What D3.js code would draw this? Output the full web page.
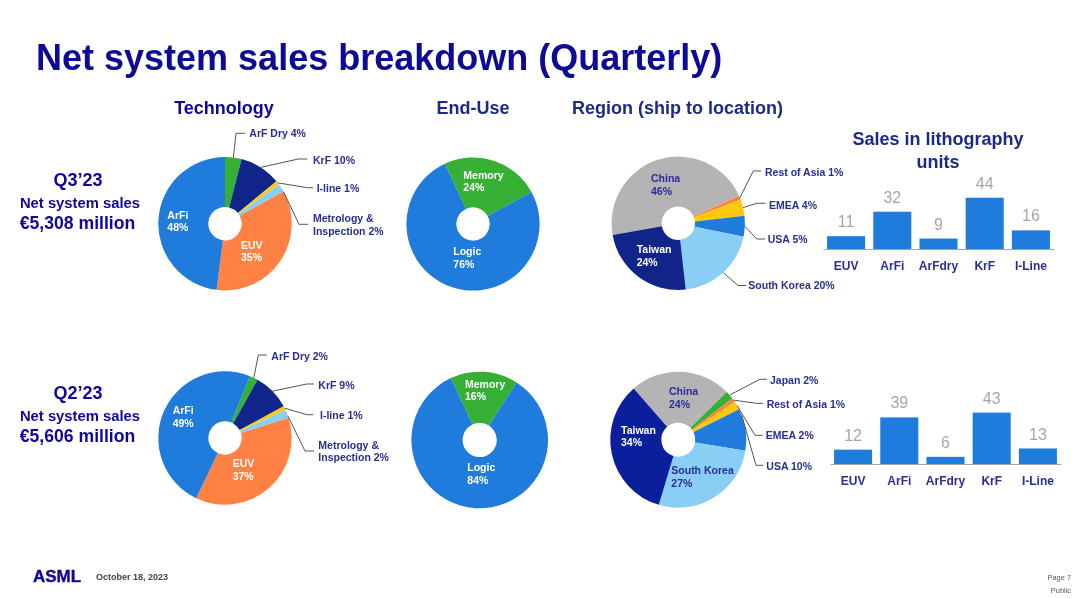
<!DOCTYPE html>
<html>
<head>
<meta charset="utf-8">
<script src="https://cdn.jsdelivr.net/npm/d3@7/dist/d3.min.js"></script>
<style>
html,body{margin:0;padding:0;background:#fff;overflow:hidden}
svg{display:block;filter:blur(0.35px)}
text{font-family:"Liberation Sans",Arial,sans-serif;font-weight:bold}
</style>
</head>
<body>
<svg id="chart" width="1080" height="599"></svg>
<script>
// ---------- data ----------
const techNamesQ3 = ["ArF Dry","KrF","I-line","Metrology & Inspection","EUV","ArFi"];
const techValuesQ3 = [4,10,1,2,35,48];
const techNamesQ2 = ["ArF Dry","KrF","I-line","Metrology & Inspection","EUV","ArFi"];
const techValuesQ2 = [2,9,1,2,37,49];
const endUseNamesQ3 = ["Memory","Logic"];
const endUseValuesQ3 = [24,76];
const endUseNamesQ2 = ["Memory","Logic"];
const endUseValuesQ2 = [16,84];
const regionNamesQ3 = ["China","Rest of Asia","EMEA","USA","South Korea","Taiwan"];
const regionValuesQ3 = [46,1,4,5,20,24];
const regionNamesQ2 = ["China","Japan","Rest of Asia","EMEA","USA","South Korea","Taiwan"];
const regionValuesQ2 = [24,2,1,2,10,27,34];
const unitCategories = ["EUV","ArFi","ArFdry","KrF","I-Line"];
const unitsQ3 = [11,32,9,44,16];
const unitsQ2 = [12,39,6,43,13];

// ---------- styles ----------
const NAVY_TEXT="#10069f", LABEL="#2a2d96";
const C={blue:"#1f7bdc",green:"#35b035",navy:"#10248a",orange:"#ff8244",yellow:"#ffc90a",light:"#88cef5",gray:"#b4b4b4",deep:"#0a1f9c"};
const techColors={"ArF Dry":C.green,"KrF":C.navy,"I-line":C.yellow,"Metrology & Inspection":C.light,"EUV":C.orange,"ArFi":C.blue};
const endColors={"Memory":C.green,"Logic":C.blue};
const regionColors={"China":C.gray,"Japan":C.green,"Rest of Asia":C.orange,"EMEA":C.yellow,"USA":C.blue,"South Korea":C.light,"Taiwan":C.navy};

const svg=d3.select("#chart");
function txt(x,y,s,size,fill,anchor,extra){
  const t=svg.append("text").attr("x",x).attr("y",y).attr("dy",".35em")
    .attr("font-size",size).attr("fill",fill).attr("text-anchor",anchor||"start").text(s);
  if(extra)extra(t);
  return t;
}

// ---------- page text ----------
txt(36,57,"Net system sales breakdown (Quarterly)",36,"#0d0a96");
txt(224,108,"Technology",18,NAVY_TEXT,"middle");
txt(473,108,"End-Use",18,"#1b2a8a","middle");
txt(572,108,"Region (ship to location)",18,"#1b2a8a");
txt(938,139,"Sales in lithography",18,"#1b2a8a","middle");
txt(938,161.5,"units",18,"#1b2a8a","middle");
[[180,203,223,"Q3’23","€5,308 million"],[393,416,436,"Q2’23","€5,606 million"]].forEach(r=>{
  txt(78,r[0],r[3],18,NAVY_TEXT,"middle");
  txt(80,r[1],"Net system sales",14.8,NAVY_TEXT,"middle");
  txt(77.5,r[2],r[4],17.6,NAVY_TEXT,"middle");
});
txt(33,576,"ASML",17,NAVY_TEXT,"start",t=>t.attr("stroke",NAVY_TEXT).attr("stroke-width",0.4));
txt(96,577,"October 18, 2023",9,"#444");
const plain=t=>t.style("font-weight","normal");
txt(1071,577,"Page 7",7.4,"#555","end",plain);
txt(1071,590.5,"Public",7.4,"#555","end",plain);

// ---------- pies ----------
function drawPie(o){
  const pie=d3.pie().sort(null).value((d,i)=>o.values[i])
    .startAngle(o.start*Math.PI/180).endAngle(o.start*Math.PI/180+2*Math.PI);
  const arc=d3.arc().innerRadius(o.r*0.25).outerRadius(o.r);
  const g=svg.append("g").attr("transform",`translate(${o.cx},${o.cy})`);
  const arcs=pie(o.names);
  g.selectAll("path").data(arcs).join("path").attr("d",arc)
    .attr("fill",(d,i)=>(o.fillOverride&&o.fillOverride[d.data])||o.colors[d.data]);
  arcs.forEach((a,i)=>{
    const name=o.names[i], val=o.values[i]+"%";
    const inside=o.inside&&o.inside[name];
    if(inside){
      const fill=inside.fill||"#fff";
      txt(inside.x,inside.y,name,10.5,fill);
      txt(inside.x,inside.y+12.6,val,10.5,fill);
    }
    const lead=o.leaders&&o.leaders[name];
    if(lead){
      const f=lead.at===undefined?0.5:lead.at;
      const ang=a.startAngle+(a.endAngle-a.startAngle)*f;
      const ax=o.cx+o.r*Math.sin(ang), ay=o.cy-o.r*Math.cos(ang);
      const p=d3.line()([[ax,ay],lead.elbow,lead.end]);
      svg.append("path").attr("d",p).attr("fill","none").attr("stroke","#555").attr("stroke-width",1);
      const parts=name.split(" & ");
      if(parts.length>1){
        txt(lead.tx,lead.ty-6.2,parts[0]+" &",10.5,LABEL);
        txt(lead.tx,lead.ty+6.2,parts[1]+" "+val,10.5,LABEL);
      } else txt(lead.tx,lead.ty,name+" "+val,10.5,LABEL);
    }
  });
}
drawPie({names:techNamesQ3,values:techValuesQ3,colors:techColors,cx:225,cy:223.7,r:66.7,start:0,
  inside:{ArFi:{x:167.3,y:215},EUV:{x:241,y:245}},
  leaders:{
    "ArF Dry":{elbow:[236,133.3],end:[245,133.3],tx:249.3,ty:133.5},
    "KrF":{elbow:[298.3,159],end:[307.3,159],tx:313,ty:160},
    "I-line":{elbow:[307.3,187.7],end:[313,187.7],tx:316.7,ty:188},
    "Metrology & Inspection":{at:1,elbow:[299,224.3],end:[308.3,224.3],tx:313,ty:225}}});
drawPie({names:techNamesQ2,values:techValuesQ2,colors:techColors,cx:225,cy:438,r:66.7,start:22,
  inside:{ArFi:{x:172.7,y:410.7},EUV:{x:232.7,y:463.3}},
  leaders:{
    "ArF Dry":{elbow:[258.3,355],end:[266.7,355],tx:271.3,ty:356},
    "KrF":{elbow:[306.7,384],end:[314,384],tx:318.3,ty:385},
    "I-line":{elbow:[306.7,414.7],end:[313.3,414.7],tx:320,ty:415},
    "Metrology & Inspection":{at:0.8,elbow:[305,451],end:[314,451],tx:318.3,ty:451.5}}});
drawPie({names:endUseNamesQ3,values:endUseValuesQ3,colors:endColors,cx:473,cy:224,r:66.6,start:-25,
  inside:{Memory:{x:463.3,y:175},Logic:{x:453.3,y:251.7}}});
drawPie({names:endUseNamesQ2,values:endUseValuesQ2,colors:endColors,cx:479.7,cy:440,r:68.3,start:-25,
  inside:{Memory:{x:465,y:384},Logic:{x:467.3,y:467.7}}});
drawPie({names:regionNamesQ3,values:regionValuesQ3,colors:regionColors,cx:678.3,cy:223.3,r:66.7,start:260,
  inside:{China:{x:651,y:178.3,fill:"#2a2d96"},Taiwan:{x:636.7,y:249.3}},
  leaders:{
    "Rest of Asia":{elbow:[753.3,171],end:[761,171],tx:765,ty:172},
    "EMEA":{elbow:[756.7,203.3],end:[765.7,203.3],tx:769,ty:205},
    "USA":{elbow:[756.7,239],end:[765,239],tx:767.7,ty:239},
    "South Korea":{elbow:[738,285.5],end:[746,285.5],tx:748.3,ty:285.5}}});
drawPie({names:regionNamesQ2,values:regionValuesQ2,colors:regionColors,cx:678.3,cy:439.7,r:68,start:319,
  fillOverride:{Taiwan:C.deep},
  inside:{China:{x:669,y:391.3,fill:"#2a2d96"},Taiwan:{x:621,y:430},"South Korea":{x:671.3,y:470.7,fill:"#2a2d96"}},
  leaders:{
    "Japan":{elbow:[760,379.3],end:[766.7,379.3],tx:770,ty:380},
    "Rest of Asia":{elbow:[756.7,403.3],end:[763.3,403.3],tx:766.7,ty:404},
    "EMEA":{elbow:[755,435.3],end:[762.7,435.3],tx:765.7,ty:435},
    "USA":{at:0.15,elbow:[756,465.3],end:[763.3,465.3],tx:766.3,ty:466}}});

// ---------- bars ----------
function drawBars(values,x0,x1,base,pxPerUnit){
  const x=d3.scaleBand().domain(unitCategories).range([x0,x1]).paddingInner(0.177).paddingOuter(0.088);
  const top=d3.max(values);
  const y=d3.scaleLinear().domain([0,top]).range([base,base-top*pxPerUnit]);
  const g=svg.append("g");
  g.selectAll("rect").data(unitCategories).join("rect")
    .attr("x",d=>x(d)).attr("width",x.bandwidth())
    .attr("y",(d,i)=>y(values[i])).attr("height",(d,i)=>base-y(values[i]))
    .attr("fill",C.blue);
  g.selectAll("text.v").data(unitCategories).join("text").attr("class","v")
    .attr("x",d=>x(d)+x.bandwidth()/2).attr("y",(d,i)=>y(values[i])-14.5).attr("dy",".35em")
    .attr("text-anchor","middle").attr("font-size",16).attr("fill","#a6a6a6")
    .style("font-weight","normal").text((d,i)=>values[i]);
  const ax=svg.append("g").attr("transform",`translate(0,${base})`)
    .call(d3.axisBottom(x).tickSize(0).tickPadding(12));
  ax.select(".domain").attr("stroke","#a6a6a6").attr("stroke-width",1.2);
  ax.selectAll("text").attr("font-size",12).attr("fill",LABEL)
    .attr("font-family",'"Liberation Sans",Arial,sans-serif');
}
drawBars(unitsQ3,823,1054,249,1.165);
drawBars(unitsQ2,830,1061,464,1.195);
</script>
</body>
</html>
